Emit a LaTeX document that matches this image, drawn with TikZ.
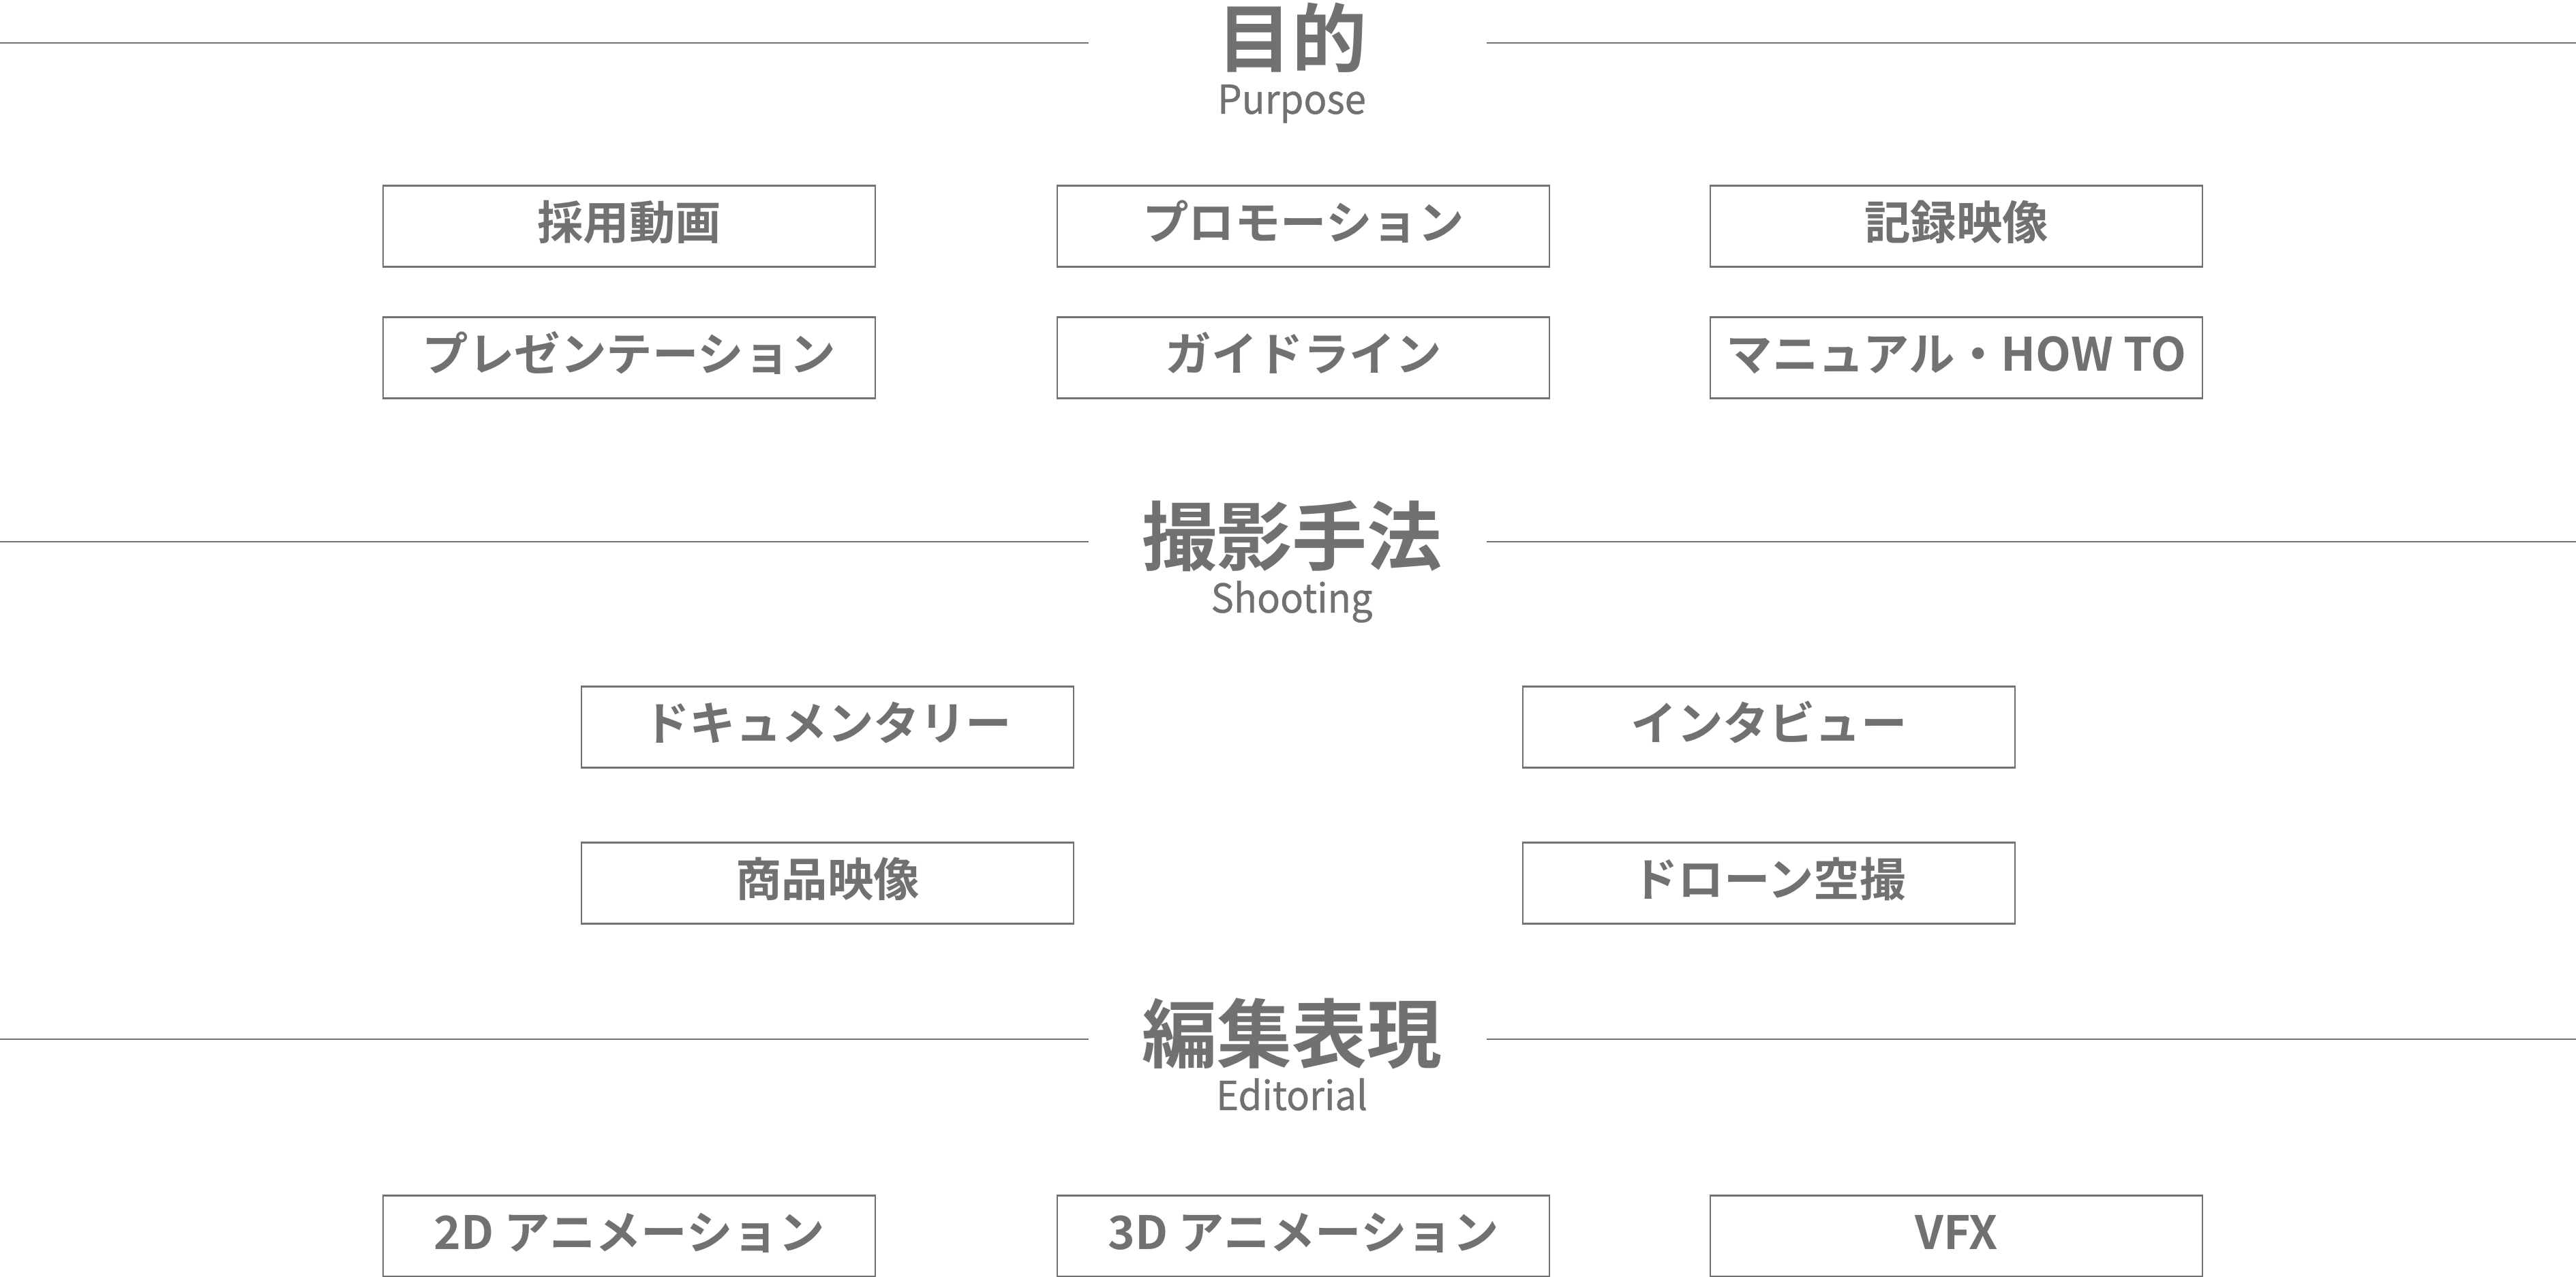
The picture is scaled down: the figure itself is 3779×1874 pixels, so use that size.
\documentclass[tikz,border=0pt]{standalone}
\usepackage{fontspec}
\setmainfont{Noto Sans CJK JP}[BoldFont={* Bold}]
\newfontfamily\subfont{Noto Sans CJK JP}[FakeBold=0.7,FakeStretch=0.96]
\definecolor{gr}{HTML}{717171}
\begin{document}
\begin{tikzpicture}[x=0.2pt,y=-0.2pt,
  itembox/.style={draw=gr,line width=0.5pt,minimum width=144.4pt,minimum height=23.8pt,inner sep=0pt,text height=0.97em,text depth=0.2em,font=\bfseries\fontsize{13.5}{16}\selectfont,text=gr},
  titletext/.style={font=\bfseries\fontsize{22}{26}\selectfont,text=gr,inner sep=0pt},
  subtext/.style={font=\subfont\fontsize{11.7}{14}\selectfont,text=gr,inner sep=0pt,anchor=base},
  rulestyle/.style={draw=gr,line width=0.5pt}]
\useasboundingbox (0,0) rectangle (3779,1874);
% section rules
\foreach \n/\y in {a/63,b/795,c/1525}{
  \coordinate (\n1) at (0,\y);
  \coordinate (\n2) at (1597,\y);
  \coordinate (\n3) at (2181,\y);
  \coordinate (\n4) at (3779,\y);
  \draw[rulestyle] (\n1) -- (\n2);
  \draw[rulestyle] (\n3) -- (\n4);
}
% titles
\node[titletext] (t1) at (1895,55) {目的};
\node[subtext] (s1) at (1895,167) {Purpose};
\node[titletext] (t2) at (1895,787) {撮影手法};
\node[subtext] (s2) at (1895,899) {Shooting};
\node[titletext] (t3) at (1895,1517) {編集表現};
\node[subtext] (s3) at (1895,1629) {Editorial};
% purpose boxes
\node[itembox] (p1) at (923,332) {採用動画};
\node[itembox] (p2) at (1912,332) {プロモーション};
\node[itembox] (p3) at (2870,332) {記録映像};
\node[itembox] (p4) at (923,525) {プレゼンテーション};
\node[itembox] (p5) at (1912,525) {ガイドライン};
\node[itembox] (p6) at (2870,525) {マニュアル・HOW TO};
% shooting boxes
\node[itembox] (h1) at (1214,1067) {ドキュメンタリー};
\node[itembox] (h2) at (2595,1067) {インタビュー};
\node[itembox] (h3) at (1214,1296) {商品映像};
\node[itembox] (h4) at (2595,1296) {ドローン空撮};
% editorial boxes
\node[itembox] (e1) at (923,1814) {2D アニメーション};
\node[itembox] (e2) at (1912,1814) {3D アニメーション};
\node[itembox] (e3) at (2870,1814) {VFX};
\end{tikzpicture}
\end{document}
